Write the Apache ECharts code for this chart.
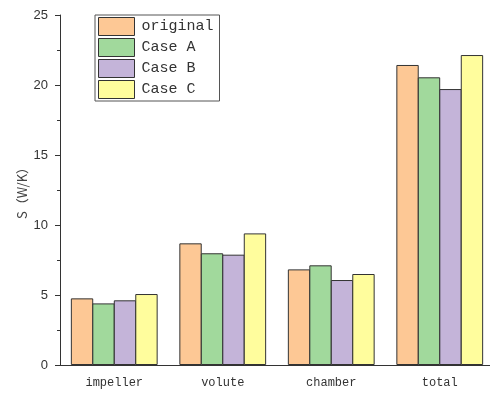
<!DOCTYPE html>
<html>
<head>
<meta charset="utf-8">
<script src="https://cdn.jsdelivr.net/npm/echarts@6/dist/echarts.min.js"></script>
<style>
html, body { margin: 0; padding: 0; background: #fff; }
#chart { width: 490px; height: 394px; }
</style>
</head>
<body>
<div id="chart"></div>
<script>
// Entropy generation per component
const categories = ['impeller', 'volute', 'chamber', 'total'];
const seriesNames = ['original', 'Case A', 'Case B', 'Case C'];
const original = [4.76, 8.69, 6.83, 21.43];
const caseA = [4.40, 7.98, 7.12, 20.55];
const caseB = [4.62, 7.88, 6.07, 19.71];
const caseC = [5.07, 9.40, 6.50, 22.14];
const yTicks = [0, 5, 10, 15, 20, 25];

const colors = ['#FDC895', '#A1D99C', '#C4B4D9', '#FFFD9D'];
const values = [original, caseA, caseB, caseC];
const serifMono = '"Liberation Mono", "DejaVu Sans Mono", monospace';

const chart = echarts.init(document.getElementById('chart'));
chart.setOption({
  animation: false,
  backgroundColor: '#fff',
  // plot area runs a little past the right edge of the canvas
  grid: { left: 60, width: 434, top: 15, bottom: 29, outerBoundsMode: 'none', containLabel: false },
  legend: {
    left: 95, top: 15, orient: 'vertical',
    icon: 'rect',
    itemWidth: 36, itemHeight: 18, itemGap: 2,
    padding: [2, 6, 2, 3],
    borderColor: '#555', borderWidth: 1,
    textStyle: { fontFamily: serifMono, fontSize: 15, color: '#333', padding: [0, 0, 0, 2] },
    data: seriesNames.map(n => ({ name: n, itemStyle: { borderColor: '#333', borderWidth: 1 } }))
  },
  xAxis: [{
    type: 'category', data: categories,
    axisLine: { lineStyle: { color: '#333', width: 1 } },
    axisTick: { alignWithLabel: true, length: 6, lineStyle: { color: '#333' } },
    axisLabel: { fontFamily: serifMono, fontSize: 12, color: '#333', margin: 12 }
  }, {
    type: 'category', data: categories, position: 'bottom', gridIndex: 0,
    axisLine: { show: false },
    axisTick: { length: 3, lineStyle: { color: '#333' } },
    axisLabel: { show: false }
  }],
  yAxis: {
    type: 'value', min: yTicks[0], max: yTicks[yTicks.length - 1], interval: 5,
    name: 'S\uFF08W/K\uFF09', nameLocation: 'middle', nameGap: 31, nameRotate: 90,
    nameMoveOverlap: false,
    nameTextStyle: { fontFamily: '"Noto Sans CJK SC", "DejaVu Serif", serif', fontSize: 13, color: '#444' },
    axisLine: { show: true, lineStyle: { color: '#333', width: 1 } },
    axisTick: { show: true, length: 5, lineStyle: { color: '#333' } },
    minorTick: { show: true, splitNumber: 2, length: 3, lineStyle: { color: '#333' } },
    splitLine: { show: false },
    axisLabel: { fontFamily: '"Liberation Sans", Arial, sans-serif', fontSize: 13, color: '#333', margin: 12 }
  },
  series: seriesNames.map((name, i) => ({
    name, type: 'bar', data: values[i],
    barGap: '-4%', barCategoryGap: '20%',
    itemStyle: { color: colors[i], borderColor: '#333', borderWidth: 1 }
  }))
});
</script>
</body>
</html>
